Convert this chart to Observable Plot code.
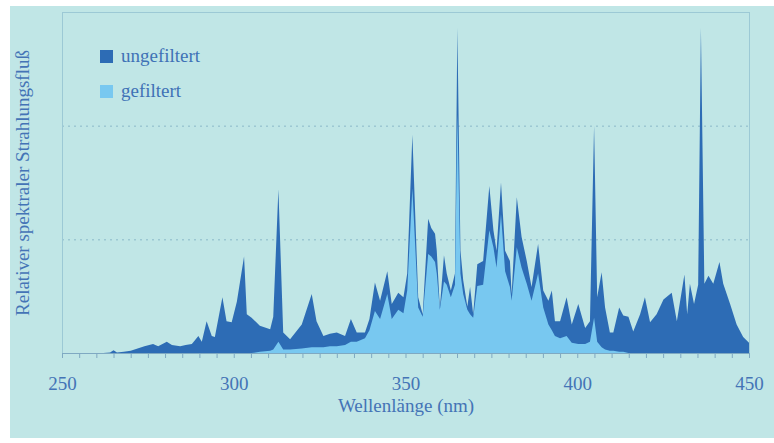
<!DOCTYPE html>
<html><head><meta charset="utf-8">
<script src="https://cdn.jsdelivr.net/npm/d3@7"></script>
<script src="https://cdn.jsdelivr.net/npm/@observablehq/plot@0.6"></script>
<style>
html,body{margin:0;padding:0;background:#fff;}
#wrap{position:relative;width:774px;height:443px;overflow:hidden;font-family:"Liberation Serif",serif;}
#bg{position:absolute;left:10px;top:6px;width:764px;height:432px;background:#c0e6e6;}
#chart{position:absolute;left:0;top:0;}
.leg{position:absolute;left:100px;display:flex;align-items:center;font-size:19px;line-height:20px;color:#3f72b6;}
.sw{display:inline-block;width:13px;height:13px;margin-right:8px;}
</style></head>
<body><div id="wrap"><div id="bg"></div><div id="chart"></div><div id="legend"></div></div>
<script>
const wavelengths = [250,262,264,265,266,268,270,272,274,276.5,278,280.5,282,284.4,286,287.8,289.7,290.7,292.1,293.6,294.5,296.7,297.9,299.4,300.9,303,303.8,305.2,307.6,310.6,311.5,313,314.4,316.4,319.8,322.7,324.1,326.1,328,330,332.4,334.1,335.8,338.2,339.5,341.1,342.6,344.7,346,347.9,349.4,350.5,352,353.7,355,356.6,357.5,358.6,359.1,360,361.2,362,363.2,364.4,365.1,366,366.8,368,368.8,369.7,370.9,372.6,374.4,375.6,376.5,377.8,379,380.4,380.9,382.4,383.8,385.3,386.7,388.6,390.1,391.6,392.6,393.5,395,396.9,398.4,400.3,402.3,403.7,404.9,405.8,407.1,408.1,409.5,410.5,412.2,413.4,414.9,416.3,418.3,419.7,421.2,423.1,425.1,427.5,429,431.2,432,432.8,434,435.2,436,437,438.2,439.6,441.4,442.5,444.5,446.4,448.3,450];
const ungefiltert = [0,0,0.005,0.025,0.005,0.01,0.02,0.04,0.06,0.08,0.06,0.1,0.07,0.06,0.07,0.08,0.15,0.1,0.28,0.15,0.14,0.49,0.28,0.27,0.45,0.85,0.34,0.31,0.24,0.21,0.32,1.44,0.18,0.12,0.25,0.52,0.28,0.15,0.17,0.18,0.15,0.3,0.18,0.18,0.3,0.62,0.46,0.72,0.43,0.53,0.49,0.7,1.92,0.49,0.34,1.18,1.1,1.05,0.9,0.4,0.86,0.7,0.55,0.7,2.86,0.9,0.64,0.41,0.58,0.34,0.78,0.81,1.47,1.08,0.9,1.5,0.9,0.81,0.52,1.37,1.02,0.81,0.58,0.96,0.55,0.46,0.55,0.28,0.28,0.49,0.25,0.43,0.22,0.28,2.0,0.49,0.71,0.4,0.18,0.18,0.4,0.33,0.32,0.19,0.34,0.49,0.27,0.34,0.47,0.53,0.28,0.69,0.34,0.61,0.43,0.6,2.86,0.61,0.68,0.61,0.8,0.61,0.43,0.25,0.14,0.09];
const gefiltert = [0,0,0,0,0,0,0,0,0,0,0,0,0,0,0,0,0,0,0,0,0,0,0,0,0,0,0,0,0.01,0.02,0.03,0.1,0.03,0.03,0.04,0.05,0.05,0.05,0.06,0.06,0.07,0.1,0.1,0.13,0.2,0.37,0.3,0.52,0.3,0.38,0.35,0.55,1.45,0.4,0.32,0.87,0.85,0.8,0.7,0.38,0.63,0.6,0.49,0.6,2.1,0.7,0.52,0.38,0.34,0.31,0.59,0.6,1.08,0.93,0.75,1.22,0.72,0.58,0.46,0.93,0.75,0.61,0.46,0.7,0.4,0.25,0.2,0.15,0.13,0.15,0.09,0.08,0.08,0.1,0.31,0.1,0.05,0.03,0.02,0.02,0.01,0.01,0,0,0,0,0,0,0,0,0,0,0,0,0,0,0,0,0,0,0,0,0,0,0,0];
const xTicks = [250,300,350,400,450];
const minorTicks = d3.range(250, 451, 5);
const gridValues = [1,2];
const seriesNames = ["ungefiltert","gefiltert"];
const seriesColors = ["#2d6cb5","#78c8f0"];
const xLabel = "Wellenlänge (nm)";
const yLabel = "Relativer spektraler Strahlungsfluß";

const data = wavelengths.map((wl,i)=>({wl, u: ungefiltert[i], f: gefiltert[i]}));
const textColor = "#4474b6";
const axisColor = "#7fa9c2";

const chart = Plot.plot({
  width: 774, height: 443,
  marginLeft: 62, marginRight: 25, marginTop: 12, marginBottom: 90,
  style: {fontFamily: "Liberation Serif, serif", background: "transparent", fontSize: "19px", color: textColor},
  x: {domain: [250,450]},
  y: {domain: [0,3], axis: null},
  marks: [
    Plot.ruleY(gridValues, {stroke: "#8ab8c8", strokeDasharray: "2,4", strokeWidth: 1}),
    Plot.areaY(data, {x: "wl", y: "u", fill: seriesColors[0]}),
    Plot.areaY(data, {x: "wl", y: "f", fill: seriesColors[1]}),
    Plot.frame({stroke: "#9cc9d5"}),
    Plot.ruleY([0], {stroke: axisColor}),
    Plot.axisX(minorTicks, {tickSize: 5, tickFormat: () => "", color: axisColor, label: null}),
    Plot.axisX(xTicks, {tickSize: 0, tickPadding: 23, fontSize: 19, color: textColor, label: null}),
    Plot.text([xLabel], {frameAnchor: "bottom", dy: 58, text: d => d, fontSize: 19, fill: textColor}),
    Plot.text([yLabel], {frameAnchor: "left", textAnchor: "middle", dx: -40, rotate: -90, text: d => d, fontSize: 19, fill: textColor})
  ]
});
document.getElementById("chart").appendChild(chart);

const legend = document.getElementById("legend");
seriesNames.forEach((name, i) => {
  const d = document.createElement("div");
  d.className = "leg";
  d.style.top = (46 + i * 35) + "px";
  d.innerHTML = `<span class="sw" style="background:${seriesColors[i]}"></span>${name}`;
  legend.appendChild(d);
});
</script>
</body></html>
